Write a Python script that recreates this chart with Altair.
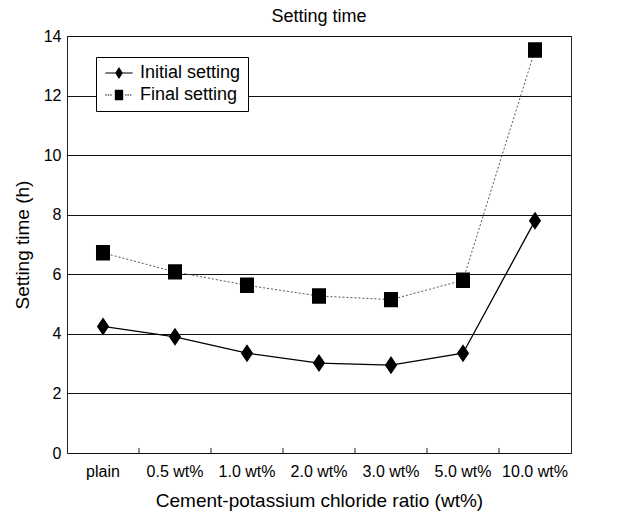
import altair as alt
import pandas as pd

# Cement-potassium chloride ratios and measured setting times (hours)
categories = ["plain", "0.5 wt%", "1.0 wt%", "2.0 wt%", "3.0 wt%", "5.0 wt%", "10.0 wt%"]
initial_setting = [4.25, 3.9, 3.35, 3.02, 2.95, 3.35, 7.8]
final_setting = [6.72, 6.08, 5.63, 5.27, 5.15, 5.8, 13.53]
series_names = ["Initial setting", "Final setting"]
y_ticks = [0, 2, 4, 6, 8, 10, 12, 14]

rows = []
for name, values in zip(series_names, [initial_setting, final_setting]):
    for cat, v in zip(categories, values):
        rows.append({"cat": cat, "value": v, "series": name})
df = pd.DataFrame(rows)
tick_df = pd.DataFrame({"cat": categories[1:]})

FONT = "Liberation Sans"

# marker outlines (unit box)
diamond_path = "M0,-1L0.68,0L0,1L-0.68,0Z"
square_path = "M-0.85,-0.95H0.85V0.95H-0.85Z"


def bar(x0, x1, h=0.085):
    # thin filled strip used as a line stub in the legend keys
    return f"M{x0},{-h}H{x1}V{h}H{x0}Z"


legend_initial = bar(-1.95, 1.95) + "M0,-0.85L0.55,0L0,0.85L-0.55,0Z"
legend_final = (
    "".join(bar(a, a + 0.2) for a in (-1.95, -1.6, -1.25))
    + "".join(bar(a, a + 0.2) for a in (0.85, 1.2, 1.55))
    + "M-0.6,-0.75H0.6V0.75H-0.6Z"
)

x_enc = alt.X(
    "cat:N",
    sort=categories,
    scale=alt.Scale(type="band", domain=categories, paddingInner=0, paddingOuter=0),
    axis=alt.Axis(
        title="Cement-potassium chloride ratio (wt%)",
        labelAngle=0, ticks=False, domain=False, grid=False,
        labelPadding=10, titlePadding=12,
        labelFontSize=16, titleFontSize=19,
    ),
)
y_enc = alt.Y(
    "value:Q",
    scale=alt.Scale(domain=[0, 14], nice=False),
    axis=alt.Axis(
        title="Setting time (h)", values=y_ticks, ticks=False, domain=False,
        grid=True, gridColor="#111", gridWidth=1.2,
        labelPadding=6, titlePadding=11,
        labelFontSize=16, titleFontSize=19,
    ),
)

base = alt.Chart(df)
initial_df = base.transform_filter(alt.datum.series == "Initial setting")
final_df = base.transform_filter(alt.datum.series == "Final setting")

initial_line = initial_df.mark_line(color="black", strokeWidth=1.3).encode(x=x_enc, y=y_enc)
final_line = final_df.mark_line(color="#444444", strokeWidth=0.9, strokeDash=[2, 2]).encode(x=x_enc, y=y_enc)

initial_points = initial_df.mark_point(
    shape=diamond_path, filled=True, fill="black", stroke="black", opacity=1, size=210
).encode(x=x_enc, y=y_enc)

final_points = final_df.mark_point(
    shape=square_path, filled=True, fill="black", stroke="black", opacity=1, size=200
).encode(x=x_enc, y=y_enc)

# no rows pass this filter: the layer only carries the shape scale for the legend
legend_layer = base.transform_filter("false").mark_point(
    filled=True, fill="black", opacity=1, size=196
).encode(
    x=x_enc,
    y=y_enc,
    shape=alt.Shape(
        "series:N",
        scale=alt.Scale(domain=series_names, range=[legend_initial, legend_final]),
        legend=alt.Legend(
            title=None, orient="none", legendX=29, legendY=21,
            labelFontSize=18, labelFont=FONT, labelColor="black",
            symbolSize=196, symbolFillColor="black",
            symbolOpacity=1, symbolOffset=7,
            labelOffset=12, rowPadding=4,
            padding=7, strokeColor="black", fillColor="white",
        ),
    ),
)

ticks = alt.Chart(tick_df).mark_rule(color="#222", strokeWidth=1).encode(
    x=alt.X("cat:N", bandPosition=0, sort=categories),
    y=alt.datum(0),
    y2=alt.datum(0.17),
)

chart = (
    alt.layer(initial_line, final_line, ticks, initial_points, final_points, legend_layer)
    .properties(
        width=504,
        height=417,
        title=alt.TitleParams("Setting time", fontSize=18, font=FONT, fontWeight="normal", offset=2),
        autosize=alt.AutoSizeParams(type="none"),
        padding={"left": 67, "top": 36, "right": 58, "bottom": 63},
    )
    .configure(font=FONT, background="white")
    .configure_view(stroke="#222", strokeWidth=1)
    .configure_axis(labelFont=FONT, titleFont=FONT, labelColor="black", titleColor="black", titleFontWeight="normal")
)

chart.save("out.html", embed_options={"renderer": "svg", "actions": False})
